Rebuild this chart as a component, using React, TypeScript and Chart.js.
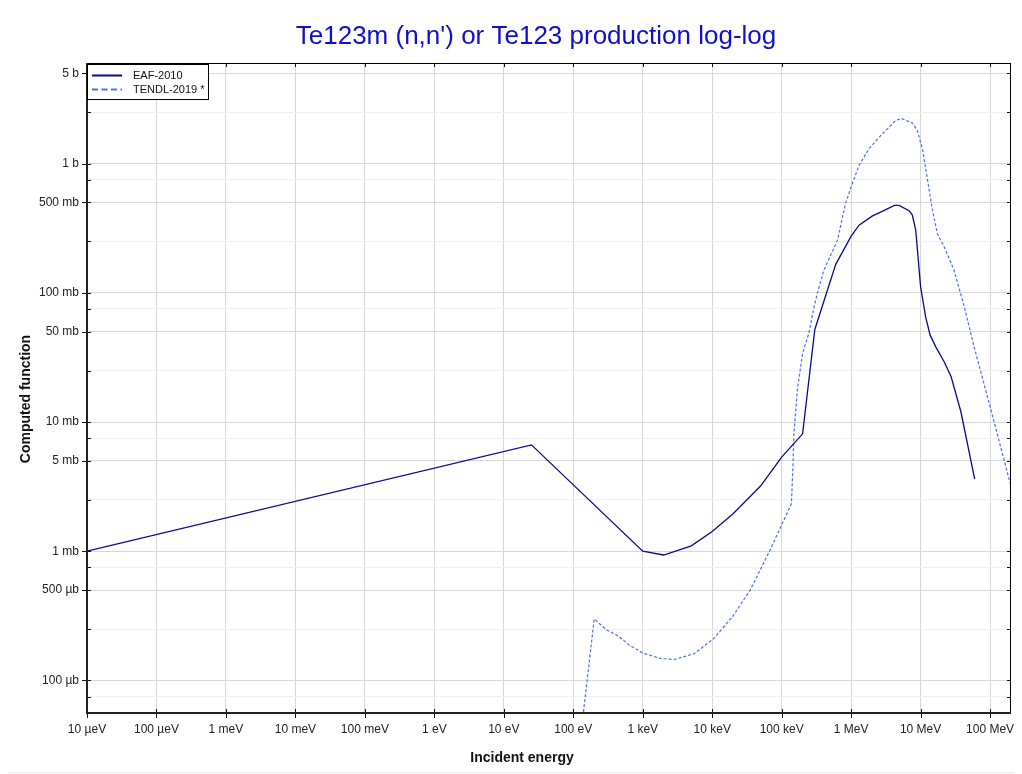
import React, { useEffect, useRef } from "react";
import { Chart, registerables } from "chart.js";

Chart.register(...registerables);

const TITLE = "Te123m (n,n') or Te123 production log-log";
const X_TITLE = "Incident energy";
const Y_TITLE = "Computed function";
const SERIES_NAMES = ["EAF-2010", "TENDL-2019 *"];
const SERIES_COLORS = ["#0a0a8c", "#4a72e8"];

// Incident energy (eV) and cross-section (b)
const eafEnergy = [
  1e-5, 25, 1e3, 2e3, 5e3, 1e4, 2e4, 5e4, 1e5, 2e5, 3e5, 6e5, 1e6, 1.3e6, 2e6,
  2.7e6, 4.2e6, 4.9e6, 6.9e6, 7.6e6, 8.5e6, 1e7, 1.18e7, 1.37e7, 1.66e7, 2.2e7,
  2.75e7, 3.8e7, 6e7,
];
const eafValue = [
  1e-3, 6.65e-3, 1e-3, 0.935e-3, 1.1e-3, 1.42e-3, 1.95e-3, 3.21e-3, 5.35e-3,
  8.1e-3, 0.052, 0.166, 0.274, 0.334, 0.392, 0.423, 0.474, 0.474, 0.43, 0.399,
  0.305, 0.111, 0.065, 0.047, 0.038, 0.029, 0.0224, 0.012, 3.61e-3,
];

const tendlEnergy = [
  130, 200, 300, 450, 630, 1e3, 1.8e3, 2.8e3, 5.5e3, 1.04e4, 1.95e4, 3.55e4,
  6.9e4, 1.38e5, 1.45e5, 1.5e5, 1.68e5, 2e5, 2.46e5, 2.93e5, 3.26e5, 4.06e5,
  6.35e5, 8.3e5, 9.8e5, 1.3e6, 1.82e6, 2.68e6, 4.4e6, 5.3e6, 7.6e6, 8.95e6,
  1.07e7, 1.26e7, 1.48e7, 1.74e7, 2.18e7, 3.02e7, 4.25e7, 5.9e7, 1.03e8, 2e8,
];
const tendlValue = [
  4e-5, 2.99e-4, 2.47e-4, 2.2e-4, 1.89e-4, 1.63e-4, 1.48e-4, 1.45e-4, 1.61e-4,
  2.1e-4, 3.1e-4, 5.04e-4, 1.04e-3, 2.33e-3, 4.5e-3, 8.2e-3, 0.0177, 0.034,
  0.0486, 0.078, 0.099, 0.15, 0.255, 0.491, 0.641, 0.97, 1.31, 1.65, 2.16, 2.23,
  2.06, 1.81, 1.27, 0.743, 0.436, 0.288, 0.227, 0.15, 0.078, 0.038, 0.0124,
  0.00317,
];

const X_MIN = 1e-5;
const X_MAX = 2e8;
const Y_MIN = 5.6e-5;
const Y_MAX = 6;

const xTickValues = [
  1e-5, 1e-4, 1e-3, 1e-2, 1e-1, 1, 10, 100, 1e3, 1e4, 1e5, 1e6, 1e7, 1e8,
];
const xTickLabels = [
  "10 µeV", "100 µeV", "1 meV", "10 meV", "100 meV", "1 eV", "10 eV", "100 eV",
  "1 keV", "10 keV", "100 keV", "1 MeV", "10 MeV", "100 MeV",
];
const yMajorValues = [5, 1, 0.5, 0.1, 0.05, 0.01, 0.005, 1e-3, 5e-4, 1e-4];
const yMajorLabels = [
  "5 b", "1 b", "500 mb", "100 mb", "50 mb", "10 mb", "5 mb", "1 mb", "500 µb", "100 µb",
];
const yMinorValues = [2.5, 0.75, 0.25, 0.075, 0.025, 0.0075, 0.0025, 7.5e-4, 2.5e-4, 7.5e-5];

const FONT = "'Liberation Sans', Arial, Helvetica, sans-serif";

const findIdx = (arr: number[], v: number) =>
  arr.findIndex((a) => Math.abs(a / v - 1) < 1e-6);

const framePlugin = {
  id: "frameAndDecor",
  afterDraw(chart: any) {
    const { ctx, chartArea: a, scales } = chart;
    const xs = scales.x;
    const ys = scales.y;
    ctx.save();

    // tick marks
    ctx.strokeStyle = "#111";
    ctx.lineWidth = 1;
    ctx.beginPath();
    for (const v of xTickValues) {
      const px = Math.round(xs.getPixelForValue(v)) + 0.5;
      ctx.moveTo(px, a.bottom + 5);
      ctx.lineTo(px, a.bottom - 4);
      ctx.moveTo(px, a.top);
      ctx.lineTo(px, a.top + 4);
    }
    for (const v of yMajorValues) {
      const py = Math.round(ys.getPixelForValue(v)) + 0.5;
      ctx.moveTo(a.left - 5, py);
      ctx.lineTo(a.left + 4, py);
      ctx.moveTo(a.right, py);
      ctx.lineTo(a.right - 4, py);
    }
    for (const v of yMinorValues) {
      const py = Math.round(ys.getPixelForValue(v)) + 0.5;
      ctx.moveTo(a.left, py);
      ctx.lineTo(a.left + 4, py);
      ctx.moveTo(a.right, py);
      ctx.lineTo(a.right - 4, py);
    }
    ctx.stroke();

    // frame
    ctx.strokeStyle = "#000";
    ctx.lineWidth = 1;
    ctx.strokeRect(a.left + 0.5, a.top + 0.5, a.width - 1, a.height);
    ctx.strokeStyle = "#222";
    ctx.lineWidth = 2;
    ctx.beginPath();
    ctx.moveTo(a.left, a.top);
    ctx.lineTo(a.left, a.bottom);
    ctx.lineTo(a.right, a.bottom);
    ctx.stroke();

    // legend
    const lx = a.left + 0.5;
    const ly = a.top + 1.5;
    ctx.fillStyle = "#fff";
    ctx.fillRect(lx, ly, 121, 35);
    ctx.strokeStyle = "#000";
    ctx.lineWidth = 1;
    ctx.strokeRect(lx, ly, 121, 35);
    const rows = [ly + 11, ly + 25];
    for (let i = 0; i < 2; i++) {
      ctx.beginPath();
      ctx.strokeStyle = SERIES_COLORS[i];
      ctx.lineWidth = 2;
      ctx.setLineDash(i === 1 ? [6, 3.5] : []);
      ctx.moveTo(a.left + 5, rows[i]);
      ctx.lineTo(a.left + 35, rows[i]);
      ctx.stroke();
      ctx.setLineDash([]);
      ctx.fillStyle = "#111";
      ctx.font = `11px ${FONT}`;
      ctx.textAlign = "left";
      ctx.textBaseline = "middle";
      ctx.fillText(SERIES_NAMES[i], a.left + 46, rows[i] + 0.5);
    }

    // titles
    ctx.fillStyle = "rgb(16,16,204)";
    ctx.font = `26px ${FONT}`;
    ctx.textAlign = "center";
    ctx.textBaseline = "alphabetic";
    ctx.fillText(TITLE, 528, 35.5);

    ctx.fillStyle = "#111";
    ctx.font = `bold 14px ${FONT}`;
    ctx.textBaseline = "middle";
    ctx.fillText(X_TITLE, 514, 750);

    ctx.translate(18, 391);
    ctx.rotate(-Math.PI / 2);
    ctx.fillText(Y_TITLE, 0, 0);

    ctx.restore();
  },
};

export default function App() {
  const ref = useRef<HTMLCanvasElement | null>(null);

  useEffect(() => {
    if (!ref.current) return;
    const chart = new Chart(ref.current, {
      type: "line",
      data: {
        datasets: [
          {
            label: SERIES_NAMES[0],
            data: eafEnergy.map((x, i) => ({ x, y: eafValue[i] })),
            borderColor: SERIES_COLORS[0],
            borderWidth: 1.3,
            pointRadius: 0,
            tension: 0,
            fill: false,
          },
          {
            label: SERIES_NAMES[1],
            data: tendlEnergy.map((x, i) => ({ x, y: tendlValue[i] })),
            borderColor: SERIES_COLORS[1],
            borderWidth: 1.2,
            borderDash: [3, 2],
            pointRadius: 0,
            tension: 0,
            fill: false,
          },
        ],
      },
      options: {
        animation: false,
        responsive: false,
        events: [],
        layout: { padding: { top: 55, right: 3, bottom: 0, left: 0 } },
        plugins: {
          legend: { display: false },
          title: { display: false },
          tooltip: { enabled: false },
        },
        scales: {
          x: {
            type: "logarithmic",
            min: X_MIN,
            max: X_MAX,
            afterBuildTicks: (scale: any) => {
              scale.ticks = xTickValues.map((value) => ({ value }));
            },
            afterFit: (scale: any) => {
              scale.height = 53;
              scale.paddingLeft = 0;
              scale.paddingRight = 0;
            },
            border: { display: false },
            grid: {
              color: "#d6d6d6",
              lineWidth: 1,
              drawTicks: false,
            },
            ticks: {
              autoSkip: false,
              maxRotation: 0,
              padding: 9,
              color: "#222",
              font: { family: FONT, size: 12 },
              callback: (v: any) => {
                const i = findIdx(xTickValues, Number(v));
                return i >= 0 ? xTickLabels[i] : "";
              },
            },
          },
          y: {
            type: "logarithmic",
            min: Y_MIN,
            max: Y_MAX,
            afterBuildTicks: (scale: any) => {
              const all = [...yMajorValues, ...yMinorValues].sort((p, q) => p - q);
              scale.ticks = all.map((value) => ({ value }));
            },
            afterFit: (scale: any) => {
              scale.width = 79;
              scale.paddingTop = 0;
              scale.paddingBottom = 0;
            },
            border: { display: false },
            grid: {
              color: (c: any) =>
                c.tick && findIdx(yMajorValues, c.tick.value) >= 0 ? "#d6d6d6" : "#f0f0f0",
              lineWidth: 1,
              drawTicks: false,
            },
            ticks: {
              autoSkip: false,
              padding: 8,
              color: "#222",
              font: { family: FONT, size: 12 },
              callback: (v: any) => {
                const i = findIdx(yMajorValues, Number(v));
                return i >= 0 ? yMajorLabels[i] : "";
              },
            },
          },
        },
      },
      plugins: [framePlugin],
    });
    return () => chart.destroy();
  }, []);

  return (
    <div
      style={{
        marginLeft: -1,
        width: 1007,
        height: 764,
        borderLeft: "1px solid #ebebeb",
        borderBottom: "1px solid #ebebeb",
      }}
    >
      <canvas ref={ref} width={1006} height={758} style={{ display: "block" }} />
    </div>
  );
}
